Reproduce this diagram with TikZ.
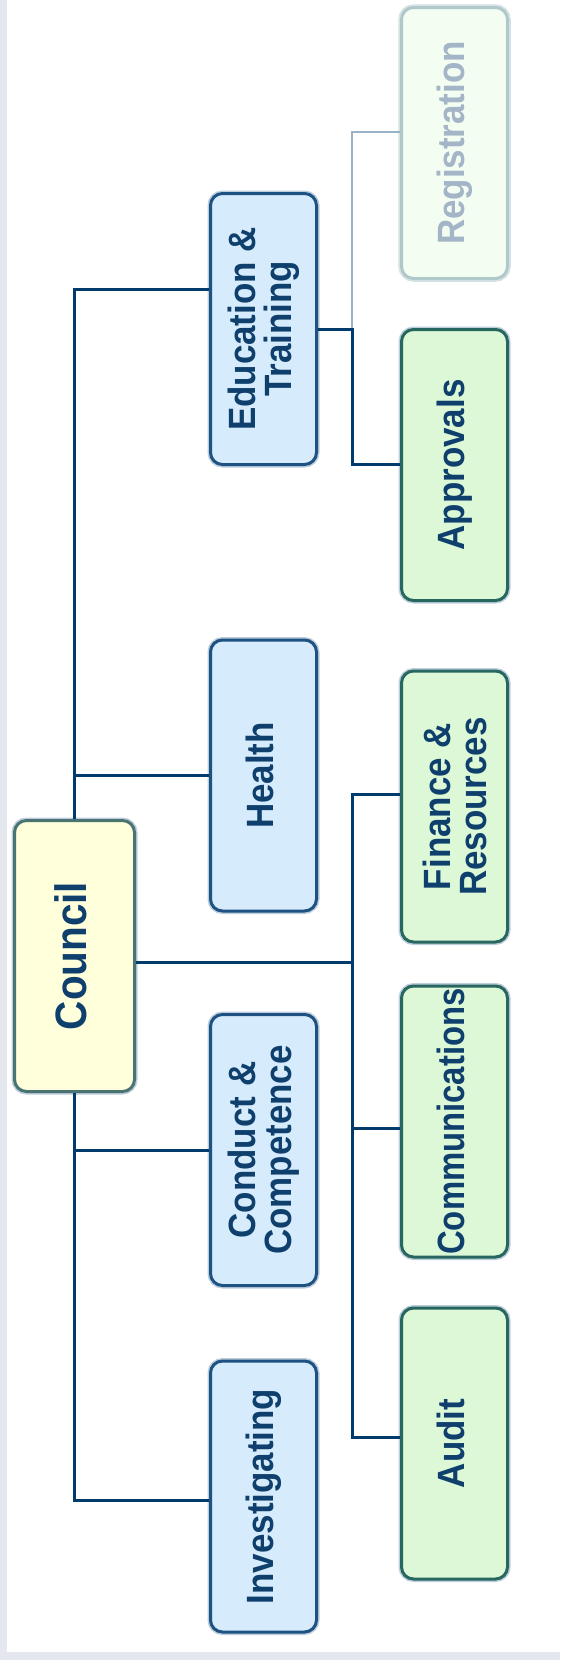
\documentclass[tikz,border=0pt]{standalone}
\usepackage{fontspec}
\usepackage{graphicx}
\setmainfont{Liberation Sans}
\newfontfamily\labfont{Liberation Sans}[FakeStretch=0.92]
\usetikzlibrary{calc}
\definecolor{navy}{HTML}{003B6B}
\definecolor{bluefill}{HTML}{D6ECFC}
\definecolor{blueedge}{HTML}{1E5283}
\definecolor{greenfill}{HTML}{DCF8D6}
\definecolor{greenedge}{HTML}{286760}
\definecolor{yelfill}{HTML}{FFFFDC}
\definecolor{yeledge}{HTML}{4A7472}
\definecolor{txt}{HTML}{0F3F6C}
\definecolor{halo}{HTML}{BCCDDC}
\definecolor{regfill}{HTML}{F3FDF1}
\definecolor{regedge}{HTML}{AFC8CA}
\definecolor{regtxt}{HTML}{A3B5C6}
\definecolor{reglinec}{HTML}{9AB2C6}
\definecolor{framec}{HTML}{E4E7EE}
\begin{document}
\begin{tikzpicture}[x=1pt,y=-1pt,
  box/.style={rounded corners=12pt, line width=3pt, rotate=90,
    minimum width=271pt, minimum height=106pt, inner sep=0pt, align=center,
    font=\labfont\bfseries\fontsize{38}{36}\selectfont, text=txt,
    preaction={draw=halo, line width=6pt}},
  bluebox/.style={box, fill=bluefill, draw=blueedge},
  greenbox/.style={box, fill=greenfill, draw=greenedge},
  oneline/.style={text height=28pt, text depth=9pt},
  conn/.style={draw=navy, line width=3pt},
  regconn/.style={draw=reglinec, line width=2.5pt}]
\useasboundingbox (0,0) rectangle (560,1660);
\fill[white] (0,0) rectangle (560,1660);
\fill[framec] (0,0) rectangle (7,1660);
\fill[framec] (0,1652) rectangle (560,1660);

% council
\node[box, fill=yelfill, draw=yeledge, minimum height=120pt,
  font=\labfont\bfseries\fontsize{44}{46}\selectfont, text height=32pt, text depth=9pt]
  (council) at (74.5,956) {Council};

% blue column
\node[bluebox] (edu) at (263.5,329) {Education \&\\Training};
\node[bluebox, oneline] (health) at (263.5,775.5) {Health};
\node[bluebox] (conduct) at (263.5,1150) {Conduct \&\\Competence};
\node[bluebox, oneline] (invest) at (263.5,1496.5) {Investigating};

% green column
\node[box, fill=regfill, draw=regedge, text=regtxt, oneline,
  preaction={draw=regedge!50, line width=6pt}] (reg) at (454.5,143) {Registration};
\node[greenbox, oneline] (appr) at (454.5,465) {Approvals};
\node[greenbox] (fin) at (454.5,806.5) {Finance \&\\Resources};
\node[greenbox, oneline] (comm) at (454.5,1121.5) {\scalebox{0.94}[1]{Communications}};
\node[greenbox, oneline] (audit) at (454.5,1443.5) {Audit};

% junction points
\coordinate (bus) at (352,0);
\coordinate (cR) at ([yshift=-6pt]council.south);
\coordinate (finC) at ([yshift=12.5pt]fin.north);
\coordinate (commC) at ([yshift=-6.5pt]comm.north);
\coordinate (audC) at ([yshift=6.5pt]audit.north);
\coordinate (appC) at ([yshift=1pt]appr.north);
\coordinate (regC) at ([yshift=11pt]reg.north);
\coordinate (eduL) at ([yshift=40pt]edu.north);
\coordinate (invL) at ([yshift=-3.5pt]invest.north);

% trunk to blue boxes
\draw[conn] (eduL) -| (council.east);
\draw[conn] (health.north) -| (council.east);
\draw[conn] (conduct.north) -| (council.west);
\draw[conn] (invL) -| (council.west);

% council to green boxes
\draw[conn] (cR) -- (cR -| bus);
\draw[conn] (finC) -| (bus |- audC) -- (audC);
\draw[conn] (commC) -- (commC -| bus);

% education sub-branches
\draw[regconn] (edu.south -| bus) |- (regC);
\draw[conn] (edu.south) -| (bus |- appC) -- (appC);
\end{tikzpicture}
\end{document}
